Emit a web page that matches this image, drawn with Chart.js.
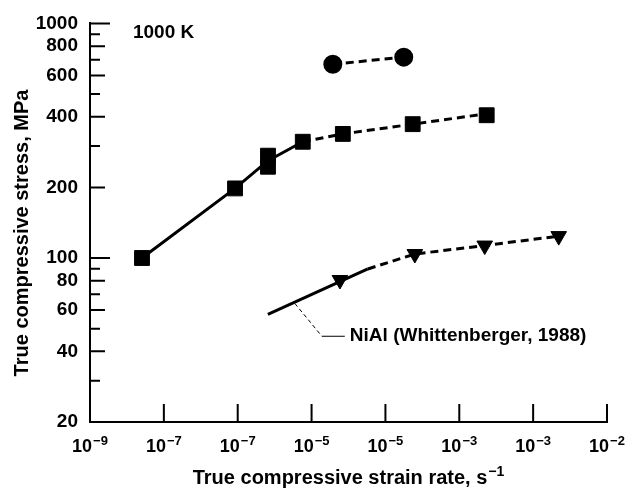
<!DOCTYPE html>
<html>
<head>
<meta charset="utf-8">
<script src="https://cdn.jsdelivr.net/npm/chart.js@4/dist/chart.umd.min.js"></script>
<style>
  body { margin: 0; background: #fff; }
  #wrap { width: 631px; height: 491px; }
</style>
</head>
<body>
<div id="wrap"><canvas id="chart_creep" width="631" height="491"></canvas></div>
<script>
// tick values and labels (exponents copied as printed)
const xTicks = [1e-9, 1e-8, 1e-7, 1e-6, 1e-5, 1e-4, 1e-3, 1e-2];
const xTickExps = ['−9', '−7', '−7', '−5', '−5', '−3', '−3', '−2'];
const yTicks = [20, 40, 60, 80, 100, 200, 400, 600, 800, 1000];
const yMinor = [30, 50, 70, 90, 300, 500, 700, 900];

// circles
const circleX = [1.94e-6, 1.77e-5];
const circleY = [670, 718];

// squares
const squareX = [5.06e-9, 9.2e-8, 2.57e-7, 2.57e-7, 7.6e-7, 2.65e-6, 2.34e-5, 2.35e-4];
const squareY = [100, 198, 273, 245, 313, 338, 372, 406];
const squareLineX = [5.06e-9, 9.2e-8, 2.57e-7, 7.6e-7, 2.65e-6, 2.34e-5, 2.35e-4];
const squareLineY = [100, 198, 260, 313, 338, 372, 412];

// triangles + NiAl line
const triX = [2.42e-6, 2.5e-5, 2.21e-4, 2.22e-3];
const triY = [80.6, 104, 113, 124];
const nialX = [2.56e-7, 5.78e-6, 2.5e-5, 2.21e-4, 2.22e-3];
const nialY = [57.5, 89.8, 104, 113, 124];

// label leader
const leaderX = [5.94e-7, 1.38e-6, 2.82e-6];
const leaderY = [64, 46.4, 46.4];

const pts = (xs, ys) => xs.map((x, i) => ({x: x, y: ys[i]}));
const FONT = "'Liberation Sans', Arial, sans-serif";

// draws text with a raised exponent, centred (align 'center') or from x (align 'left')
function supText(c, base, exp, x, y, size, expSize, align) {
    c.font = 'bold ' + size + 'px ' + FONT;
    const w1 = c.measureText(base).width;
    c.font = 'bold ' + expSize + 'px ' + FONT;
    const w2 = c.measureText(exp).width;
    const x0 = align === 'center' ? x - (w1 + w2 + 1) / 2 : x;
    c.textAlign = 'left';
    c.textBaseline = 'alphabetic';
    c.font = 'bold ' + size + 'px ' + FONT;
    c.fillText(base, x0, y);
    c.font = 'bold ' + expSize + 'px ' + FONT;
    c.fillText(exp, x0 + w1 + 1, y - size * 0.38);
}

const extraTicks = {
    id: 'extraTicks',
    afterDatasetsDraw(chart) {
        const c = chart.ctx;
        const xs = chart.scales.x, ys = chart.scales.y;
        const a = chart.chartArea;
        c.save();
        c.strokeStyle = '#000';
        c.lineWidth = 2;
        c.beginPath();
        xTicks.forEach(v => {
            const px = xs.getPixelForValue(v);
            c.moveTo(px, a.bottom);
            c.lineTo(px, a.bottom - 18);
        });
        yTicks.forEach(v => {
            const py = ys.getPixelForValue(v);
            const len = (v === 100 || v === 1000) ? 20 : 15;
            c.moveTo(a.left, py);
            c.lineTo(a.left + len, py);
        });
        yMinor.forEach(v => {
            const py = ys.getPixelForValue(v);
            c.moveTo(a.left, py);
            c.lineTo(a.left + 10, py);
        });
        c.stroke();

        c.fillStyle = '#000';
        // x tick labels
        xTicks.forEach((v, i) => {
            supText(c, '10', xTickExps[i], xs.getPixelForValue(v), a.bottom + 30, 18, 13, 'center');
        });
        // x title
        supText(c, 'True compressive strain rate, s', '−1', (a.left + a.right) / 2, 484, 20, 14, 'center');
        // y title
        c.save();
        c.translate(22, 233);
        c.rotate(-Math.PI / 2);
        c.font = 'bold 20px ' + FONT;
        c.textAlign = 'center';
        c.textBaseline = 'middle';
        c.fillText('True compressive stress, MPa', 0, 0);
        c.restore();

        c.font = 'bold 19px ' + FONT;
        c.textBaseline = 'middle';
        c.textAlign = 'left';
        c.fillText('1000 K', xs.getPixelForValue(3.82e-9), ys.getPixelForValue(914));
        c.fillText('NiAl (Whittenberger, 1988)', xs.getPixelForValue(3.3e-6), ys.getPixelForValue(46.4));
        c.restore();
    }
};

const ctx = document.getElementById('chart_creep');

const config = {
    type: 'scatter',
    data: {
        datasets: [
            {
                data: pts(circleX, circleY),
                showLine: true,
                borderColor: '#000',
                borderWidth: 3,
                borderDash: [8, 5],
                pointStyle: 'circle',
                pointRadius: 8,
                backgroundColor: '#000',
            },
            {
                data: pts(squareLineX, squareLineY),
                showLine: true,
                borderColor: '#000',
                borderWidth: 3,
                pointRadius: 0,
                segment: {
                    borderDash: c => c.p0DataIndex >= 3 ? [8, 5] : undefined,
                },
            },
            {
                data: pts(squareX, squareY),
                pointStyle: 'rect',
                pointRadius: 10.5,
                backgroundColor: '#000',
                borderColor: '#000',
            },
            {
                data: pts(nialX, nialY),
                showLine: true,
                borderColor: '#000',
                borderWidth: 3,
                pointRadius: 0,
                segment: {
                    borderDash: c => c.p0DataIndex >= 1 ? [8, 5] : undefined,
                },
            },
            {
                data: pts(triX, triY),
                pointStyle: 'triangle',
                rotation: 180,
                pointRadius: 9,
                backgroundColor: '#000',
                borderColor: '#000',
            },
            {
                data: pts(leaderX, leaderY),
                showLine: true,
                borderColor: '#000',
                borderWidth: 1,
                pointRadius: 0,
                segment: {
                    borderDash: c => c.p0DataIndex === 0 ? [4, 3] : undefined,
                },
            },
        ]
    },
    options: {
        responsive: false,
        animation: false,
        events: [],
        layout: { padding: { top: 18, right: 24, left: 0, bottom: 0 } },
        plugins: {
            legend: { display: false },
            tooltip: { enabled: false },
        },
        scales: {
            x: {
                type: 'logarithmic',
                min: 1e-9,
                max: 1e-2,
                afterBuildTicks: s => { s.ticks = xTicks.map(v => ({value: v})); },
                afterFit: s => { s.height = 69; },
                grid: { display: false, drawTicks: false },
                border: { display: true, color: '#000', width: 2 },
                ticks: { display: false },
            },
            y: {
                type: 'logarithmic',
                min: 20,
                max: 1000,
                afterBuildTicks: s => { s.ticks = yTicks.map(v => ({value: v})); },
                afterFit: s => { s.width = 90; },
                grid: { display: false, drawTicks: false },
                border: { display: true, color: '#000', width: 2 },
                ticks: {
                    autoSkip: false,
                    padding: 12,
                    color: '#000',
                    font: { family: FONT, size: 19, weight: 'bold' },
                    callback: (v, i) => String(yTicks[i]),
                },
            }
        }
    },
    plugins: [extraTicks]
};

new Chart(ctx, config);
</script>
</body>
</html>
